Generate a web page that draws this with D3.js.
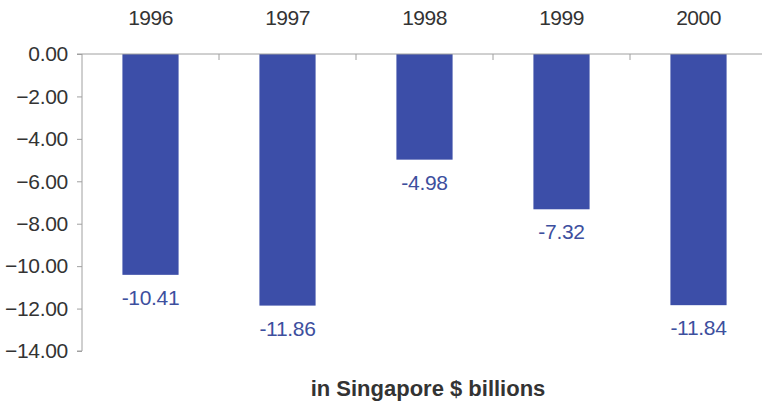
<!DOCTYPE html>
<html>
<head>
<meta charset="utf-8">
<script src="https://cdn.jsdelivr.net/npm/d3@7"></script>
<style>
  html, body { margin: 0; padding: 0; background: #fff; }
  svg { display: block; font-family: "Liberation Sans", Arial, sans-serif; }
</style>
</head>
<body>
<svg id="chart" width="762" height="406"></svg>
<script>
// Annual balance, in Singapore $ billions
const years = ["1996", "1997", "1998", "1999", "2000"];
const values = [-10.41, -11.86, -4.98, -7.32, -11.84];
const yTicks = [0, -2, -4, -6, -8, -10, -12, -14];
const caption = "in Singapore $ billions";

const svg = d3.select("#chart");
const plotLeft = 82, plotRight = 767, plotTop = 54, plotBottom = 351;

const x = d3.scaleBand().domain(years).range([plotLeft, plotRight]).paddingInner(0.59).paddingOuter(0.295);
const xb = d3.scaleBand().domain(years).range([plotLeft, plotRight]);
const y = d3.scaleLinear().domain([0, -14]).range([plotTop, plotBottom]);

const axisColor = "#a0a0a0";

// bars
svg.append("g").selectAll("rect").data(values).join("rect")
  .attr("x", (d, i) => x(years[i]))
  .attr("y", y(0))
  .attr("width", x.bandwidth())
  .attr("height", d => y(d) - y(0))
  .attr("fill", "#3c4ea8");

// y axis
const yAxis = d3.axisLeft(y).tickValues(yTicks).tickFormat(d3.format(".2f")).tickSize(5).tickPadding(9);
const gy = svg.append("g").attr("transform", `translate(${plotLeft},0)`).call(yAxis);
gy.select(".domain").attr("stroke", axisColor).attr("d", `M-5,${plotTop}H0V${plotBottom}H-5`);
gy.selectAll(".tick line").attr("stroke", axisColor);
gy.selectAll(".tick text").attr("fill", "#333").style("font-size", "21px").style("letter-spacing", "-0.3px");

// x axis at zero, category labels above
const gx = svg.append("g").attr("transform", `translate(0,${y(0)})`);
gx.append("line").attr("x1", plotLeft).attr("x2", plotRight).attr("stroke", axisColor);
gx.selectAll("line.tk").data(years.slice(1)).join("line").attr("class", "tk")
  .attr("x1", d => xb(d)).attr("x2", d => xb(d)).attr("y1", 0).attr("y2", 6)
  .attr("stroke", axisColor);
gx.selectAll("text").data(years).join("text")
  .attr("x", d => xb(d) + xb.bandwidth() / 2)
  .attr("y", -29)
  .attr("text-anchor", "middle")
  .attr("fill", "#333")
  .style("font-size", "21px")
  .style("letter-spacing", "-0.5px")
  .text(d => d);

// value labels below bars
svg.append("g").selectAll("text").data(values).join("text")
  .attr("x", (d, i) => x(years[i]) + x.bandwidth() / 2)
  .attr("y", d => y(d) + 30)
  .attr("text-anchor", "middle")
  .attr("fill", "#3d4f9e")
  .style("font-size", "21px")
  .style("letter-spacing", "-0.3px")
  .text(d => d.toFixed(2));

// caption
svg.append("text")
  .attr("x", 428).attr("y", 396)
  .attr("text-anchor", "middle")
  .attr("fill", "#333")
  .style("font-size", "22px")
  .style("font-weight", "bold")
  .text(caption);
</script>
</body>
</html>
